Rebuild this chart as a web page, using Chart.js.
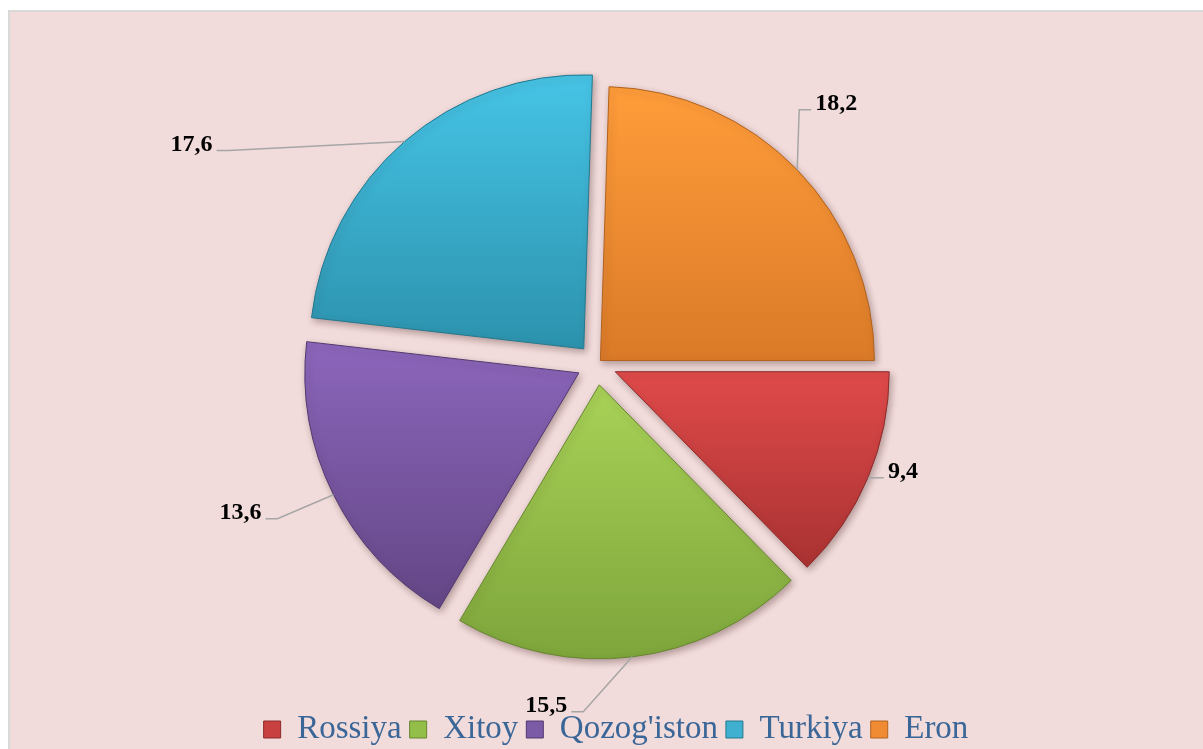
<!DOCTYPE html>
<html>
<head>
<meta charset="utf-8">
<script src="https://cdn.jsdelivr.net/npm/chart.js@4/dist/chart.umd.min.js"></script>
<style>
  html, body { margin: 0; padding: 0; width: 1203px; height: 749px; overflow: hidden; background: #ffffff; }
  #panel { position: absolute; left: 8px; top: 10px; right: 0; bottom: 0; background: #F2DCDB; border-top: 2px solid #D9D9D9; border-left: 2px solid #D9D9D9; }
  #chart { position: absolute; left: 29px; top: 0; }
</style>
</head>
<body>
<div id="panel"></div>
<canvas id="chart" width="1174" height="756"></canvas>
<script>
// data
const countries = ["Rossiya", "Xitoy", "Qozog'iston", "Turkiya", "Eron"];
const shares = [9.4, 15.5, 13.6, 17.6, 18.2];

// look
const baseColors = ["#C94040", "#93BE4A", "#7B5AA6", "#3FB0CF", "#F08A33"];
const lightColors = ["#E04A4A", "#A8D257", "#8C66BC", "#46C4E6", "#FF9D3A"];
const darkColors = ["#A93232", "#7DA53B", "#634685", "#2C92AD", "#DA7A28"];
const edgeColors = ["#8A2A2A", "#66862F", "#503870", "#23788E", "#B0621F"];
const explode = [20, 21, 20, 20, 5];
const labelShift = [[16, 0], [-61, 55], [-68, 24], [-188, 9], [14, -60]];
const PIE_RADIUS = 274;
const SERIF = "'Liberation Serif', 'Times New Roman', serif";

const explodePlugin = {
    id: 'explode',
    afterDatasetsUpdate(chart) {
        const meta = chart.getDatasetMeta(0);
        meta.data.forEach((arc, i) => {
            const mid = (arc.startAngle + arc.endAngle) / 2;
            arc.x += Math.cos(mid) * explode[i];
            arc.y += Math.sin(mid) * explode[i];
        });
    }
};

const shadePlugin = {
    id: 'shade',
    beforeDatasetDraw(chart) {
        const ctx = chart.ctx;
        const meta = chart.getDatasetMeta(0);
        meta.data.forEach((arc, i) => {
            let minY = arc.y, maxY = arc.y;
            for (let t = 0; t <= 24; t++) {
                const a = arc.startAngle + (arc.endAngle - arc.startAngle) * t / 24;
                const y = arc.y + Math.sin(a) * arc.outerRadius;
                minY = Math.min(minY, y);
                maxY = Math.max(maxY, y);
            }
            const g = ctx.createLinearGradient(0, minY, 0, maxY);
            g.addColorStop(0, lightColors[i]);
            g.addColorStop(1, darkColors[i]);
            arc.options.backgroundColor = g;
        });
        ctx.save();
        ctx.shadowColor = 'rgba(60, 30, 30, 0.35)';
        ctx.shadowBlur = 7;
        ctx.shadowOffsetX = 2;
        ctx.shadowOffsetY = 3;
    },
    afterDatasetDraw(chart) {
        chart.ctx.restore();
    }
};

const labelPlugin = {
    id: 'sliceLabels',
    afterDatasetsDraw(chart) {
        const ctx = chart.ctx;
        const meta = chart.getDatasetMeta(0);
        ctx.save();
        meta.data.forEach((arc, i) => {
            const mid = (arc.startAngle + arc.endAngle) / 2;
            const ex = arc.x + Math.cos(mid) * arc.outerRadius;
            const ey = arc.y + Math.sin(mid) * arc.outerRadius;
            const tx = ex + labelShift[i][0];
            const ty = ey + labelShift[i][1];
            const dir = labelShift[i][0] >= 0 ? 1 : -1;

            ctx.strokeStyle = '#A6A6A6';
            ctx.lineWidth = 1.5;
            ctx.beginPath();
            ctx.moveTo(ex, ey);
            ctx.lineTo(tx - dir * 12, ty);
            ctx.lineTo(tx, ty);
            ctx.stroke();

            ctx.fillStyle = '#000000';
            ctx.font = 'bold 24px ' + SERIF;
            ctx.textAlign = dir > 0 ? 'left' : 'right';
            ctx.textBaseline = 'alphabetic';
            ctx.fillText(shares[i].toFixed(1).replace('.', ','), tx + dir * 4, ty);
        });
        ctx.restore();
    }
};

new Chart(document.getElementById('chart'), {
    type: 'pie',
    data: {
        labels: countries,
        datasets: [{
            data: shares,
            backgroundColor: baseColors,
            borderColor: edgeColors,
            borderWidth: 1,
            radius: PIE_RADIUS,
            hoverOffset: 0
        }]
    },
    options: {
        responsive: false,
        animation: false,
        events: [],
        rotation: 90,
        layout: { padding: { top: 23 } },
        plugins: {
            tooltip: { enabled: false },
            title: { display: true, position: 'right', text: ' ', padding: 12, font: { size: 12 } },
            legend: {
                position: 'bottom',
                labels: {
                    boxWidth: 17,
                    boxHeight: 17,
                    padding: 8,
                    color: '#3A6698',
                    font: { family: SERIF, size: 33 }
                }
            }
        }
    },
    plugins: [explodePlugin, shadePlugin, labelPlugin]
});
</script>
</body>
</html>
